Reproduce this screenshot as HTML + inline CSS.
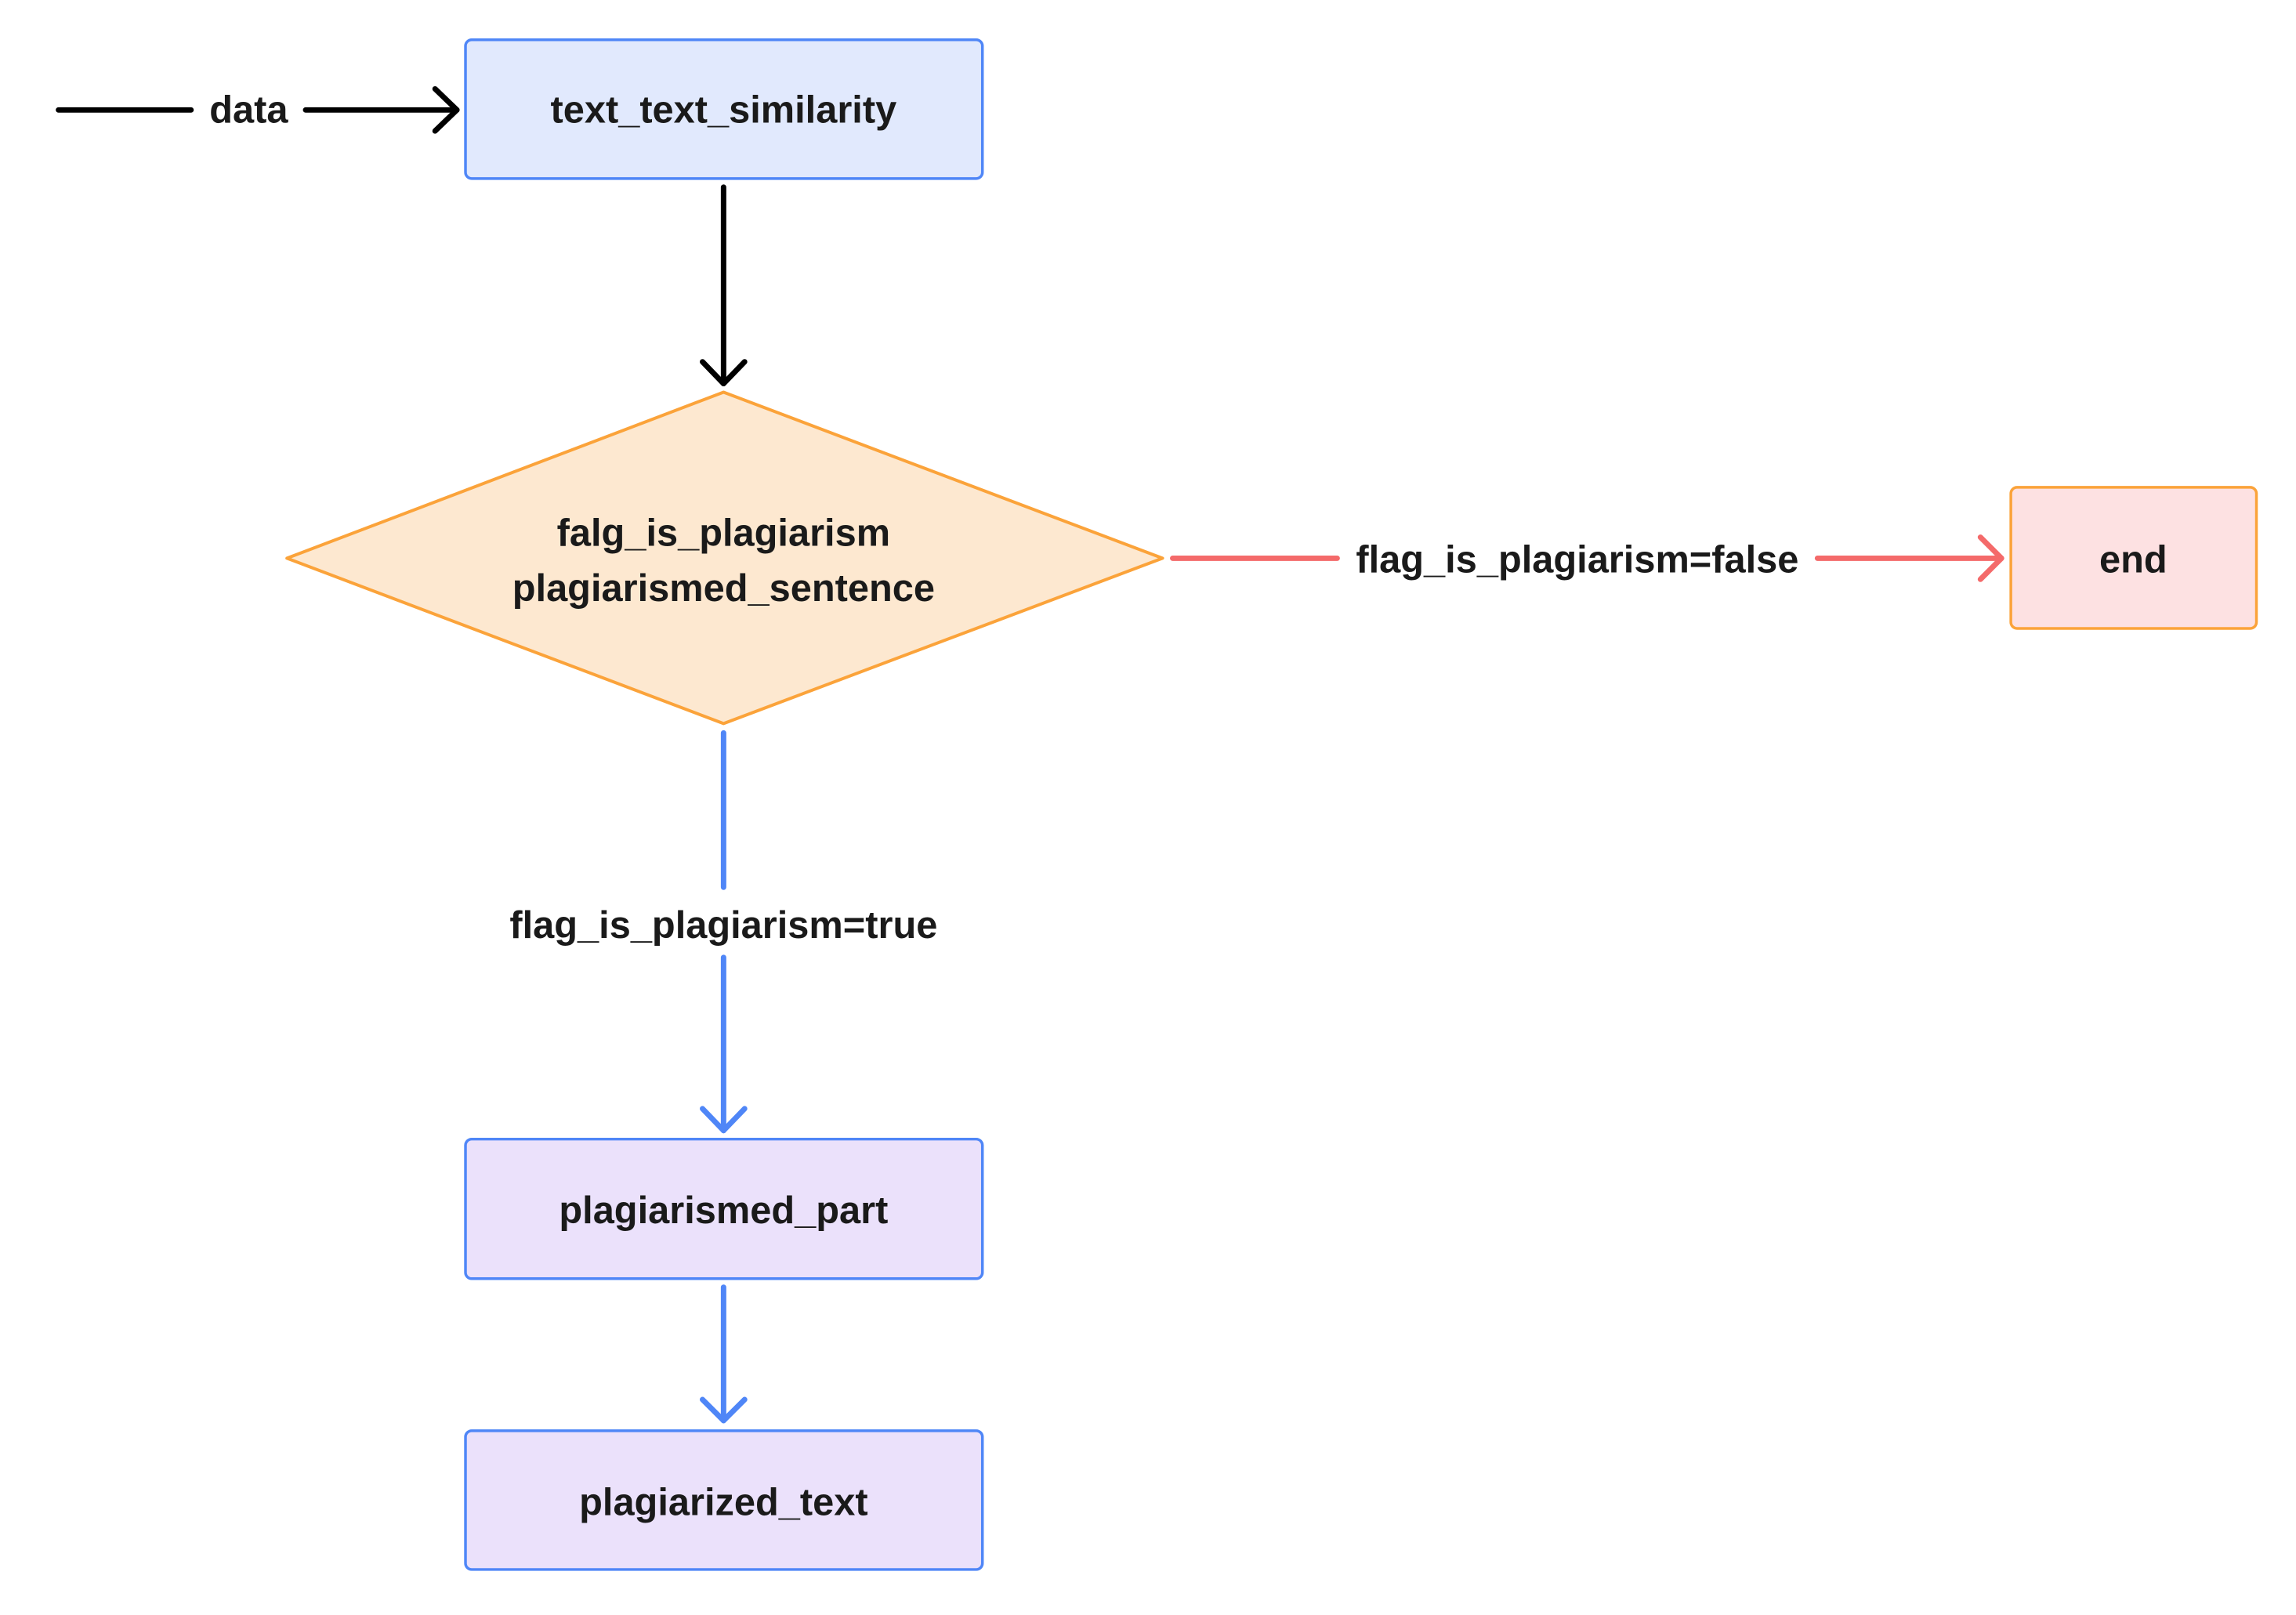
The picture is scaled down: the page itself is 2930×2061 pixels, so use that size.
<!DOCTYPE html>
<html><head><meta charset="utf-8"><style>
html,body{margin:0;padding:0;background:#fff;}
svg text{font-family:"Liberation Sans",sans-serif;font-weight:bold;fill:#1a1a1a;font-size:49px;text-anchor:middle;dominant-baseline:central;}
</style></head><body>
<svg width="2930" height="2056" viewBox="0 0 2930 2056" xmlns="http://www.w3.org/2000/svg">
<g transform="scale(0.995)">
<g fill="none" stroke-linecap="round" stroke-linejoin="round">
<line x1="75" y1="141" x2="245" y2="141" stroke="#000" stroke-width="7"/>
<line x1="392" y1="141" x2="586" y2="141" stroke="#000" stroke-width="7"/>
<polyline points="558,114 586,141 558,168" stroke="#000" stroke-width="7"/>
<line x1="928" y1="240" x2="928" y2="492" stroke="#000" stroke-width="7"/>
<polyline points="901,464 928,492 955,464" stroke="#000" stroke-width="7"/>
<line x1="1504" y1="716" x2="1715" y2="716" stroke="#f46a6a" stroke-width="7"/>
<line x1="2331" y1="716" x2="2567" y2="716" stroke="#f46a6a" stroke-width="7"/>
<polyline points="2540,689 2567,716 2540,743" stroke="#f46a6a" stroke-width="7"/>
<line x1="928" y1="940" x2="928" y2="1138" stroke="#4f86f7" stroke-width="7"/>
<line x1="928" y1="1228" x2="928" y2="1450" stroke="#4f86f7" stroke-width="7"/>
<polyline points="901,1422 928,1450 955,1422" stroke="#4f86f7" stroke-width="7"/>
<line x1="928" y1="1651" x2="928" y2="1822" stroke="#4f86f7" stroke-width="7"/>
<polyline points="901,1795 928,1822 955,1795" stroke="#4f86f7" stroke-width="7"/>
</g>
<rect x="597" y="51" width="663" height="178" rx="8" fill="#e1e9fd" stroke="#4f86f7" stroke-width="3.5"/>
<polygon points="928,503 1491,716 928,928 368,716" fill="#fde8d0" stroke="#fba33a" stroke-width="4" stroke-linejoin="round"/>
<rect x="2579" y="625" width="315" height="181" rx="8" fill="#fde1e2" stroke="#fba33a" stroke-width="3.5"/>
<rect x="597" y="1461" width="663" height="179" rx="8" fill="#ebe1fb" stroke="#4f86f7" stroke-width="3.5"/>
<rect x="597" y="1835" width="663" height="178" rx="8" fill="#ebe1fb" stroke="#4f86f7" stroke-width="3.5"/>
<text x="319" y="141">data</text>
<text x="928" y="141">text_text_similarity</text>
<text x="928" y="684">falg_is_plagiarism</text>
<text x="928" y="755">plagiarismed_sentence</text>
<text x="2023" y="718">flag_is_plagiarism=false</text>
<text x="2736" y="718">end</text>
<text x="928" y="1187">flag_is_plagiarism=true</text>
<text x="928" y="1553">plagiarismed_part</text>
<text x="928" y="1927">plagiarized_text</text>
</g>
</svg>
</body></html>
